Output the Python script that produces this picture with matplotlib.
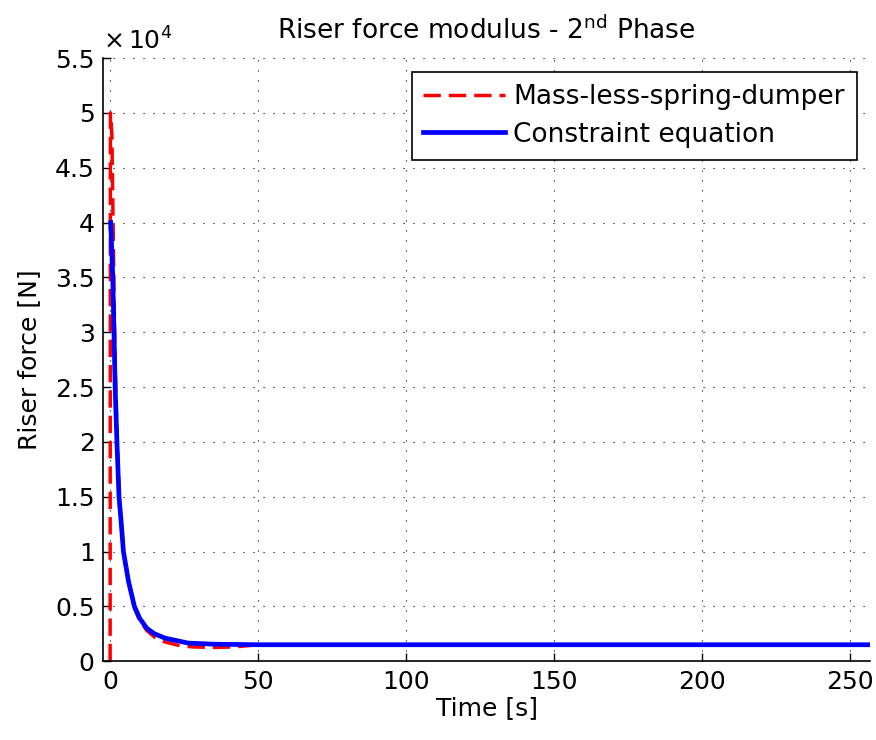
import matplotlib
matplotlib.use('Agg')
import matplotlib.pyplot as plt

# Данные
t_spring = [0, 0.1, 0.6, 1.0, 1.4, 1.8, 2.4, 3.1, 3.8, 4.6, 6.3, 8.3, 10, 12.4, 15, 18.6,
            23, 28, 35, 42, 50, 257]
f_spring = [0, 50000, 48000, 40000, 32000, 26000, 20000, 15000, 12500, 9800, 7100, 4800,
            3700, 2800, 2200, 1750, 1450, 1300, 1250, 1300, 1500, 1500]

t_constr = [0.2, 0.9, 1.3, 1.7, 2.3, 3.0, 3.7, 4.5, 6.2, 8.2, 10, 12.4, 15, 18.6, 26.4,
            35, 50, 257]
f_constr = [40000, 35000, 30000, 25000, 20000, 15000, 12800, 10000, 7300, 5000, 3900,
            3000, 2500, 2100, 1650, 1550, 1500, 1500]

yticks = [0, 5000, 10000, 15000, 20000, 25000, 30000, 35000, 40000, 45000, 50000, 55000]
ytick_labels = ['0', '0.5', '1', '1.5', '2', '2.5', '3', '3.5', '4', '4.5', '5', '5.5']
xticks = [0, 50, 100, 150, 200, 250]

plt.rcParams['font.family'] = ['DejaVu Sans']
plt.rcParams['font.size'] = 19

fig = plt.figure(figsize=(8.76, 7.4), dpi=100)
ax = fig.add_axes([0.1176, 0.1065, 0.876, 0.815])

ax.plot(t_spring, f_spring, color='red', lw=2.5, linestyle=(0, (5, 2.3)),
        label='Mass-less-spring-dumper')
ax.plot(t_constr, f_constr, color='blue', lw=3.4, label='Constraint equation')

ax.set_xlim(-2.4, 257)
ax.set_ylim(0, 55000)
ax.set_xticks(xticks)
ax.set_yticks(yticks)
ax.set_yticklabels(ytick_labels)

ax.grid(True, color='black', linestyle=(0, (1, 8)), linewidth=0.8)
ax.spines['top'].set_visible(False)
ax.spines['right'].set_visible(False)
ax.spines['left'].set_linewidth(1.2)
ax.spines['bottom'].set_linewidth(1.2)
ax.tick_params(direction='in', length=6, width=1, labelsize=18, colors='black', pad=6)

ax.text(0, 1.005, r'$\times\,\mathregular{10^{4}}$', transform=ax.transAxes,
        fontsize=18, ha='left', va='bottom')

ax.set_xlabel('Time [s]', fontsize=18, labelpad=2)
ax.set_ylabel('Riser force [N]', fontsize=18, labelpad=10)
ax.set_title(r'Riser force modulus - 2$^{\mathregular{nd}}$ Phase', fontsize=19, pad=14)

leg = ax.legend(loc='upper right', bbox_to_anchor=(0.982, 0.977), fontsize=19,
                fancybox=False, framealpha=1, edgecolor='black', handlelength=3.1,
                handletextpad=0.3, borderpad=0.45, labelspacing=0.45, borderaxespad=0)
leg.get_frame().set_linewidth(1.2)

plt.savefig('out.png', dpi=100)
